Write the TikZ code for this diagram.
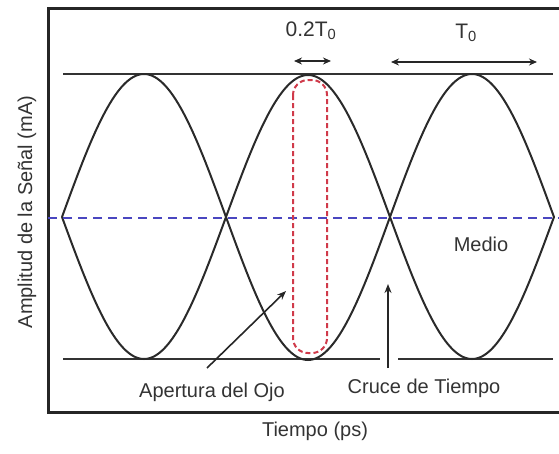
\documentclass[tikz,border=0pt]{standalone}
\usepackage{fontspec}
\setmainfont{Liberation Sans}
\usetikzlibrary{arrows.meta}
\definecolor{curvegray}{HTML}{2A2A2A}
\definecolor{midblue}{HTML}{4A46C0}
\definecolor{eyered}{HTML}{D03A4A}
\tikzset{
  lbl/.style={font=\fontsize{20}{24}\selectfont, text=black!80, inner sep=0pt},
  frameline/.style={line width=3pt, draw=black!85},
  levelline/.style={line width=2.4pt, draw=black!80},
  wave/.style={line width=2pt, draw=curvegray},
  pointer/.style={line width=1.6pt, draw=black!85, -{Stealth[length=9pt,width=7pt]}},
  dimarrow/.style={line width=1.8pt, draw=black!85, {Stealth[length=8pt,width=7pt]}-{Stealth[length=8pt,width=7pt]}},
}
\begin{document}
\begin{tikzpicture}[x=1pt,y=-1pt]
\useasboundingbox (0,0) rectangle (559,453);
% frame (open on the right)
\draw[frameline] (562,8) -- (48,8) -- (48,412) -- (562,412);
% level lines
\coordinate (tl) at (63,74);
\coordinate (tr) at (553,74);
\draw[levelline] (tl) -- (tr);
\coordinate (bl) at (63,359);
\coordinate (bm1) at (380,359);
\coordinate (bm2) at (398,359);
\coordinate (br) at (553,359);
\draw[levelline] (bl) -- (bm1) (bm2) -- (br);
% eye waveforms
\draw[wave] plot[domain=0:492, samples=241, smooth] ({62+\x},{217-143*sin(1.0976*\x)});
\draw[wave] plot[domain=0:492, samples=241, smooth] ({62+\x},{217+142*sin(1.0976*\x)});
% middle dashed line
\coordinate (ml) at (48,218);
\coordinate (mr) at (559,218);
\draw[midblue, line width=2.8pt, dash pattern=on 9pt off 6pt] (ml) -- (mr);
% eye opening box
\draw[eyered, line width=2pt, dash pattern=on 5pt off 3pt, rounded corners=15pt] (293,80) rectangle (327,353);
% dimension labels
\node[lbl, font=\fontsize{21}{25}\selectfont] (d02) at (311,31) {0.2T\textsubscript{0}};
\coordinate (a1) at (294,61);
\coordinate (a2) at (331,61);
\draw[dimarrow] (a1) -- (a2);
\node[lbl, font=\fontsize{21}{25}\selectfont] (dT) at (466,33) {T\textsubscript{0}};
\coordinate (b1) at (391,62);
\coordinate (b2) at (537,62);
\draw[dimarrow] (b1) -- (b2);
% labels
\node[lbl] (medio) at (481,244) {Medio};
\node[lbl] (apert) at (212,392) {Apertura del Ojo};
\node[lbl] (cruce) at (424,388) {Cruce de Tiempo};
\node[lbl] (xlab) at (315,431) {Tiempo (ps)};
\node[lbl, rotate=90] (ylab) at (27,212) {Amplitud de la Señal (mA)};
% pointers
\coordinate (ap0) at (207,368);
\coordinate (ap1) at (286,291);
\draw[pointer] (ap0) -- (ap1);
\coordinate (cr0) at (388,368);
\coordinate (cr1) at (388,284);
\draw[pointer] (cr0) -- (cr1);
\end{tikzpicture}
\end{document}
